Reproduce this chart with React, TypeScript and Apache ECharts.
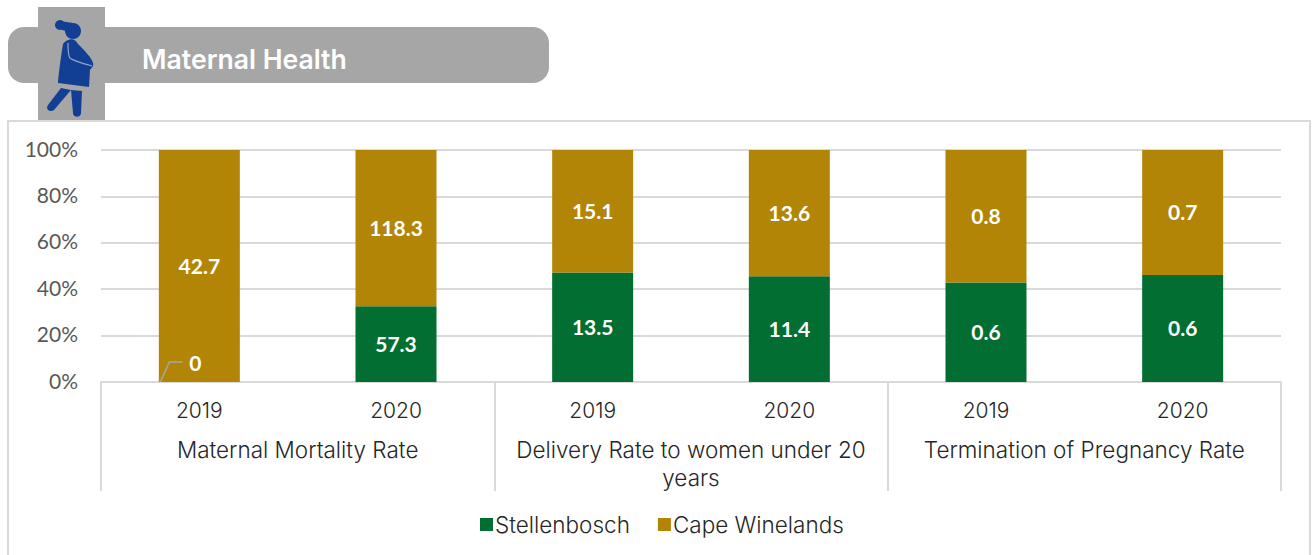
import React, { useEffect, useRef } from "react";
import * as echarts from "echarts";

const yearLabels = ["2019", "2020", "2019", "2020", "2019", "2020"];
const groupLabels = ["Maternal Mortality Rate", "Delivery Rate to women under 20\nyears", "Termination of Pregnancy Rate"];
const stellenbosch = [0, 57.3, 13.5, 11.4, 0.6, 0.6];
const capeWinelands = [42.7, 118.3, 15.1, 13.6, 0.8, 0.7];

const GREEN = "#026e31";
const GOLD = "#b28506";
const GRID = "#d9d9d9";
const BLUE = "#123f94";
const FONT = "Lato, sans-serif";
const CAT_FONT = "Inter, sans-serif";

const ICON_BODY = "M38 40 C42 38 46 40 48 44 C54 50 62 58 63 63 C64 67 61 68 60 70 L59 87 L28 83 C29 70 32 50 33 44 C34 42 36 41 38 40 Z";
const ICON_LEG_A = "M31 88 L41 90 L24 110 C20 113 15 109 18 105 Z";
const ICON_LEG_B = "M41 90 L52 91 L51 113 C51 118 43 118 43 113 Z";

export default function App() {
  const ref = useRef<HTMLDivElement>(null);
  useEffect(() => {
    if (!ref.current) return;
    echarts.graphic.registerShape("momBody", echarts.graphic.extendPath(ICON_BODY as any, {}) as any);
    echarts.graphic.registerShape("momLegA", echarts.graphic.extendPath(ICON_LEG_A as any, {}) as any);
    echarts.graphic.registerShape("momLegB", echarts.graphic.extendPath(ICON_LEG_B as any, {}) as any);
    const chart = echarts.init(ref.current, null, { renderer: "svg" });
    const pct = (a: number, b: number) => (a + b === 0 ? 0 : (a / (a + b)) * 100);
    const lab = (values: number[]) => ({
      show: true,
      position: "inside" as const,
      color: "#fff",
      fontFamily: FONT,
      fontWeight: "bold" as const,
      fontSize: 21,
      offset: [0, -1],
      formatter: (p: any) => String(values[p.dataIndex]),
    });
    chart.setOption({
      animation: false,
      textStyle: { fontFamily: FONT },
      grid: { left: 101, right: 31, top: 150, bottom: 173, containLabel: false },
      legend: {
        left: 475,
        top: 508,
        icon: "rect",
        itemWidth: 13,
        itemHeight: 13,
        itemGap: 28,
        data: ["Stellenbosch", "Cape Winelands"],
        textStyle: { fontFamily: CAT_FONT, fontWeight: 300, fontSize: 22.5, color: "#262626", padding: [0, 0, 0, -3] },
      },
      xAxis: [
        {
          type: "category",
          data: yearLabels,
          axisLine: { lineStyle: { color: GRID, width: 2 } },
          axisTick: { show: false },
          axisLabel: { color: "#262626", fontFamily: CAT_FONT, fontWeight: 300, fontSize: 21, margin: 18 },
        },
        {
          type: "category",
          position: "bottom",
          data: groupLabels,
          axisLine: { show: false },
          axisTick: { show: true, alignWithLabel: false, length: 109, lineStyle: { color: GRID, width: 2 } },
          axisLabel: { color: "#262626", fontFamily: CAT_FONT, fontWeight: 300, fontSize: 22.5, margin: 53, lineHeight: 28, verticalAlign: "top", interval: 0 },
        },
      ],
      yAxis: {
        type: "value",
        min: 0,
        max: 100,
        interval: 20,
        axisLine: { show: false },
        axisTick: { show: false },
        axisLabel: {
          color: "#595959",
          margin: 23,
          formatter: "{t|{value}%}",
          rich: { t: { color: "#595959", fontFamily: FONT, fontSize: 21, padding: [0, 0, 4, 0] } },
        },
        splitLine: { lineStyle: { color: GRID, width: 2 } },
      },
      series: [
        {
          name: "Stellenbosch",
          type: "bar",
          stack: "share",
          barWidth: 81,
          itemStyle: { color: GREEN },
          label: lab(stellenbosch),
          data: stellenbosch.map((v, i) =>
            i === 0
              ? { value: pct(v, capeWinelands[i]), label: { offset: [-4, -20] } }
              : pct(v, capeWinelands[i])
          ),
        },
        {
          name: "Cape Winelands",
          type: "bar",
          stack: "share",
          barWidth: 81,
          itemStyle: { color: GOLD },
          label: lab(capeWinelands),
          data: capeWinelands.map((v, i) => pct(v, stellenbosch[i])),
        },
      ],
      graphic: [
        { type: "rect", id: "frame", z: -2, shape: { x: 8, y: 121, width: 1302, height: 440 }, style: { fill: "#fff", stroke: GRID, lineWidth: 2 } },
        { type: "rect", id: "banner", z: -1, shape: { x: 8, y: 27, width: 541, height: 56, r: 16 }, style: { fill: "#a6a6a6" } },
        { type: "rect", id: "iconBg", z: -1, shape: { x: 38, y: 7, width: 67, height: 113 }, style: { fill: "#a6a6a6" } },
        {
          type: "group",
          id: "icon",
          x: 30,
          y: 0,
          children: [
            { type: "circle", shape: { cx: 43, cy: 31, r: 8 }, style: { fill: BLUE } },
            { type: "circle", shape: { cx: 30, cy: 25, r: 5 }, style: { fill: BLUE } },
            { type: "polygon", shape: { points: [[30, 21], [43, 23], [43, 33], [32, 30]] }, style: { fill: BLUE } },
            { type: "momBody", style: { fill: BLUE } },
            { type: "momLegA", style: { fill: BLUE } },
            { type: "momLegB", style: { fill: BLUE } },
            { type: "polyline", shape: { points: [[38, 43], [40, 58], [62, 66]], smooth: 0.2 }, style: { stroke: "#8fa3c8", lineWidth: 1.2, fill: "none" } },
          ],
        },
        { type: "text", id: "title", x: 142, y: 59, style: { text: "Maternal Health", fill: "#fff", font: "600 26.6px Inter, sans-serif", textVerticalAlign: "middle" } },
      ],
    });
    const [x0, y0] = chart.convertToPixel({ xAxisIndex: 0, yAxisIndex: 0 }, [0, 0]) as number[];
    chart.setOption({
      graphic: [
        {
          type: "polyline",
          id: "leader",
          z: 10,
          shape: { points: [[x0 - 39, y0], [x0 - 30, y0 - 20], [x0 - 17, y0 - 20]] },
          style: { stroke: "#a6a6a6", lineWidth: 1.5, fill: "none" },
        },
      ],
    });
    return () => chart.dispose();
  }, []);
  return <div ref={ref} style={{ position: "absolute", left: 0, top: 0, width: 1312, height: 555 }} />;
}
